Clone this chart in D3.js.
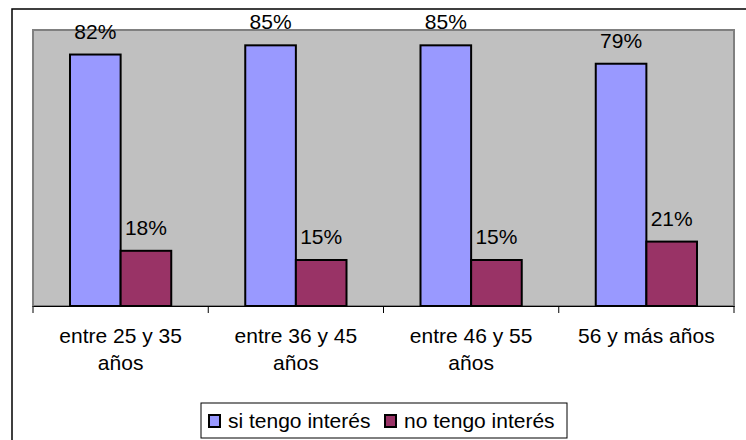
<!DOCTYPE html>
<html>
<head>
<meta charset="utf-8">
<style>
  body { margin: 0; background: #fff; }
  text { font-family: "Liberation Sans", Arial, sans-serif; font-size: 21px; fill: #000; }
</style>
</head>
<body>
<svg width="746" height="440"></svg>
<script src="https://d3js.org/d3.v7.min.js"></script>
<script>
const categories = ["entre 25 y 35 años", "entre 36 y 45 años", "entre 46 y 55 años", "56 y más años"];
const seriesNames = ["si tengo interés", "no tengo interés"];
const siValues = [0.82, 0.85, 0.85, 0.79];
const noValues = [0.18, 0.15, 0.15, 0.21];
const colors = ["#9999FF", "#993366"];

const svg = d3.select("svg");

// outer chart frame
svg.append("rect")
    .attr("x", 12).attr("y", 9)
    .attr("width", 760).attr("height", 460)
    .attr("fill", "none").attr("stroke", "#000").attr("stroke-width", 1.5);

const plot = { left: 33, top: 30, right: 734, bottom: 306 };

const x = d3.scaleBand()
    .domain(categories)
    .range([plot.left, plot.right])
    .paddingInner(0).paddingOuter(0);

const inner = d3.scaleBand()
    .domain(seriesNames)
    .range([37, x.bandwidth() - 37]);

const y = d3.scaleLinear()
    .domain([0, 0.9])
    .range([plot.bottom, plot.top]);

svg.append("rect")
    .attr("x", plot.left).attr("y", plot.top)
    .attr("width", plot.right - plot.left).attr("height", plot.bottom - plot.top)
    .attr("fill", "#C0C0C0").attr("stroke", "#808080").attr("stroke-width", 2);

const rows = categories.map((c, i) => ({ cat: c, vals: [siValues[i], noValues[i]] }));

const groups = svg.selectAll(".grp")
    .data(rows)
    .enter().append("g")
    .attr("class", "grp")
    .attr("transform", d => "translate(" + x(d.cat) + ",0)");

const bars = groups.selectAll(".bar")
    .data(d => d.vals.map((v, j) => ({ name: seriesNames[j], v: v, j: j })))
    .enter();

bars.append("rect")
    .attr("x", d => inner(d.name))
    .attr("y", d => y(d.v))
    .attr("width", inner.bandwidth())
    .attr("height", d => plot.bottom - y(d.v))
    .attr("fill", d => colors[d.j])
    .attr("stroke", "#000").attr("stroke-width", 2);

bars.append("text")
    .attr("x", d => inner(d.name) + inner.bandwidth() / 2)
    .attr("y", d => y(d.v) - 16)
    .attr("text-anchor", "middle")
    .text(d => Math.round(d.v * 100) + "%");

// x axis
const xAxis = d3.axisBottom(x).tickSize(0).tickFormat("");
const ax = svg.append("g")
    .attr("transform", "translate(0," + plot.bottom + ")")
    .call(xAxis);
ax.select(".domain").attr("stroke", "#000").attr("stroke-width", 1);

const edges = categories.map(c => x(c)).concat([plot.right]);
svg.selectAll(".tick-mark")
    .data(edges)
    .enter().append("line")
    .attr("x1", d => d).attr("x2", d => d)
    .attr("y1", plot.bottom).attr("y2", plot.bottom + 7)
    .attr("stroke", "#000");

// category labels with wrapping
function wrapLines(str, maxW, tmp) {
  const words = str.split(" ");
  const lines = [];
  let line = [];
  words.forEach(w => {
    line.push(w);
    tmp.text(line.join(" "));
    if (tmp.node().getComputedTextLength() > maxW && line.length > 1) {
      line.pop();
      lines.push(line.join(" "));
      line = [w];
    }
  });
  lines.push(line.join(" "));
  return lines;
}
const tmp = svg.append("text");
categories.forEach(c => {
  const lines = wrapLines(c, 160, tmp);
  const t = svg.append("text")
    .attr("text-anchor", "middle")
    .attr("x", x(c) + x.bandwidth() / 2)
    .attr("y", 343);
  lines.forEach((l, k) => {
    t.append("tspan")
      .attr("x", x(c) + x.bandwidth() / 2)
      .attr("dy", k === 0 ? 0 : 27)
      .text(l);
  });
});
tmp.remove();

// legend
const lg = svg.append("g");
lg.append("rect")
    .attr("x", 201).attr("y", 403).attr("width", 366).attr("height", 35)
    .attr("fill", "#fff").attr("stroke", "#000").attr("stroke-width", 1);
const lx = [209, 385];
seriesNames.forEach((s, i) => {
  lg.append("rect")
    .attr("x", lx[i]).attr("y", 415).attr("width", 11).attr("height", 12)
    .attr("fill", colors[i]).attr("stroke", "#000").attr("stroke-width", 2);
  lg.append("text")
    .attr("x", lx[i] + 19).attr("y", 428)
    .text(s);
});
</script>
</body>
</html>
